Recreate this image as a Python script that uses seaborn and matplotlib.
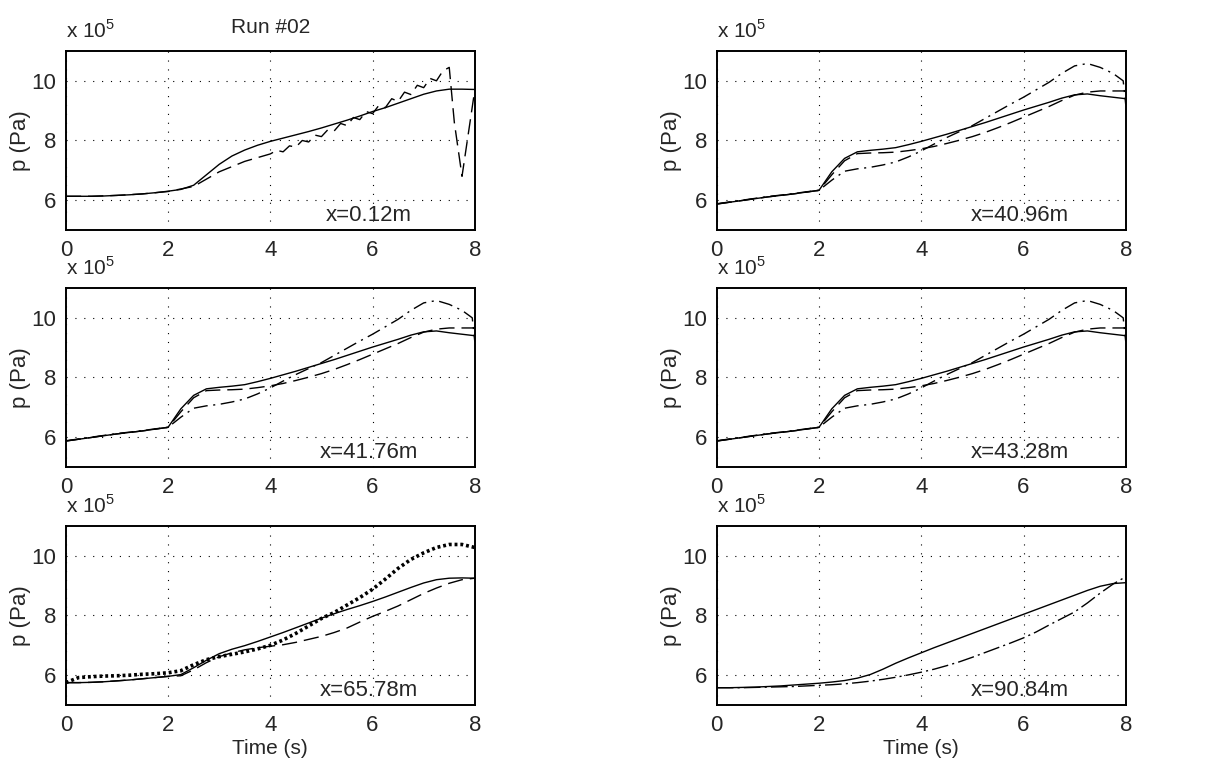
import numpy as np
import seaborn as sns
import matplotlib.pyplot as plt
from matplotlib.ticker import FuncFormatter

# time grid (s)
t = [0, 0.25, 0.5, 0.75, 1, 1.25, 1.5, 1.75, 2, 2.25, 2.5, 2.75, 3, 3.25, 3.5, 3.75,
     4, 4.25, 4.5, 4.75, 5, 5.25, 5.5, 5.75, 6, 6.25, 6.5, 6.75, 7, 7.25, 7.5, 7.75, 8]

# x=0.12m  (values in 1e5 Pa)
p1_solid = [6.13, 6.13, 6.13, 6.14, 6.16, 6.18, 6.21, 6.25, 6.30, 6.36, 6.50, 6.85, 7.20,
            7.48, 7.68, 7.84, 7.97, 8.08, 8.19, 8.30, 8.42, 8.55, 8.68, 8.82, 8.97, 9.10,
            9.25, 9.40, 9.55, 9.66, 9.72, 9.72, 9.71]
t1_dash = [0, 0.5, 1, 1.5, 2, 2.5, 3, 3.5, 4.0, 4.125, 4.25, 4.375, 4.5, 4.625, 4.75, 4.875,
           5.0, 5.125, 5.25, 5.375, 5.5, 5.625, 5.75, 5.875, 6.0, 6.125, 6.25, 6.375, 6.5,
           6.625, 6.75, 6.875, 7.0, 7.125, 7.25, 7.375, 7.5, 7.6, 7.75, 8.0]
p1_dash = [6.13, 6.13, 6.16, 6.21, 6.29, 6.46, 6.95, 7.30, 7.55, 7.67, 7.62, 7.82, 7.78, 8.00,
           7.95, 8.18, 8.13, 8.36, 8.32, 8.57, 8.50, 8.77, 8.70, 8.97, 8.90, 9.18, 9.10, 9.40,
           9.31, 9.62, 9.54, 9.85, 9.77, 10.08, 10.00, 10.33, 10.45, 8.60, 6.80, 9.70]

# x=40.96m / 41.76m / 43.28m
pm_solid = [5.87, 5.93, 5.99, 6.05, 6.11, 6.16, 6.21, 6.27, 6.33, 6.95, 7.40, 7.62, 7.67,
            7.71, 7.76, 7.86, 7.97, 8.09, 8.21, 8.34, 8.47, 8.60, 8.74, 8.88, 9.02, 9.15,
            9.28, 9.42, 9.53, 9.56, 9.50, 9.45, 9.40]
pm_dash = [5.87, 5.93, 5.99, 6.05, 6.11, 6.16, 6.21, 6.27, 6.33, 6.85, 7.32, 7.56, 7.58,
           7.59, 7.61, 7.66, 7.72, 7.80, 7.90, 8.01, 8.13, 8.27, 8.43, 8.60, 8.78, 8.96,
           9.14, 9.34, 9.52, 9.62, 9.66, 9.66, 9.66]
tm_dashdot = [0, 0.25, 0.5, 0.75, 1, 1.25, 1.5, 1.75, 2, 2.25, 2.5, 2.75, 3, 3.25, 3.5, 3.75,
              4, 4.25, 4.5, 4.75, 5, 5.25, 5.5, 5.75, 6, 6.25, 6.5, 6.75, 7, 7.25, 7.5, 7.75,
              7.95, 8.0]
pm_dashdot = [5.88, 5.94, 6.00, 6.06, 6.12, 6.17, 6.22, 6.28, 6.33, 6.67, 6.97, 7.05, 7.10,
              7.18, 7.28, 7.45, 7.65, 7.88, 8.10, 8.30, 8.50, 8.74, 8.98, 9.22, 9.45, 9.70,
              9.95, 10.25, 10.50, 10.58, 10.45, 10.25, 10.00, 9.20]

# x=65.78m
p5_solid = [5.75, 5.75, 5.76, 5.78, 5.81, 5.84, 5.88, 5.92, 5.96, 6.02, 6.25, 6.50, 6.72,
            6.87, 6.99, 7.13, 7.28, 7.43, 7.59, 7.75, 7.91, 8.06, 8.20, 8.33, 8.47, 8.62,
            8.78, 8.94, 9.09, 9.20, 9.25, 9.26, 9.25]
p5_dash = [5.75, 5.75, 5.76, 5.78, 5.81, 5.84, 5.88, 5.92, 5.96, 5.98, 6.18, 6.42, 6.62,
           6.75, 6.85, 6.92, 6.97, 7.02, 7.10, 7.20, 7.30, 7.43, 7.58, 7.78, 7.97, 8.14,
           8.32, 8.53, 8.74, 8.92, 9.08, 9.20, 9.25]
p5_dot = [5.75, 5.92, 5.95, 5.97, 5.98, 6.00, 6.03, 6.05, 6.08, 6.15, 6.35, 6.52, 6.62,
          6.70, 6.78, 6.88, 7.00, 7.18, 7.40, 7.65, 7.90, 8.10, 8.35, 8.60, 8.88, 9.22,
          9.58, 9.88, 10.10, 10.28, 10.38, 10.38, 10.28]

# x=90.84m
p6_solid = [5.58, 5.58, 5.59, 5.60, 5.62, 5.64, 5.67, 5.70, 5.73, 5.77, 5.82, 5.90, 6.02,
            6.20, 6.40, 6.58, 6.75, 6.92, 7.08, 7.24, 7.40, 7.56, 7.72, 7.88, 8.04, 8.20,
            8.36, 8.52, 8.68, 8.84, 8.98, 9.07, 9.10]
p6_dashdot = [5.58, 5.58, 5.58, 5.59, 5.60, 5.61, 5.62, 5.64, 5.66, 5.68, 5.71, 5.75, 5.80,
              5.86, 5.93, 6.01, 6.10, 6.20, 6.32, 6.45, 6.60, 6.76, 6.92, 7.08, 7.25, 7.45,
              7.68, 7.90, 8.12, 8.42, 8.75, 9.05, 9.30]

labels = ["x=0.12m", "x=40.96m", "x=41.76m", "x=43.28m", "x=65.78m", "x=90.84m"]
yticks = [6, 8, 10]
xticks = [0, 2, 4, 6, 8]

sns.set_style("white")
plt.rcParams["font.family"] = ["Liberation Sans", "DejaVu Sans"]
plt.rcParams["mathtext.fontset"] = "custom"
plt.rcParams["mathtext.rm"] = "Liberation Sans"

DASH = (0, (11, 5))
DASHDOT = (0, (10, 4, 1.5, 4))
DOT = (0, (0.8, 0.8))

panels = [
    [(t, p1_solid, "-", 1.0), (t1_dash, p1_dash, DASH, 1.0)],
    [(t, pm_solid, "-", 1.0), (t, pm_dash, DASH, 1.0), (tm_dashdot, pm_dashdot, DASHDOT, 1.0)],
    [(t, pm_solid, "-", 1.0), (t, pm_dash, DASH, 1.0), (tm_dashdot, pm_dashdot, DASHDOT, 1.0)],
    [(t, pm_solid, "-", 1.0), (t, pm_dash, DASH, 1.0), (tm_dashdot, pm_dashdot, DASHDOT, 1.0)],
    [(t, p5_solid, "-", 1.0), (t, p5_dash, DASH, 1.0), (t, p5_dot, DOT, 2.6)],
    [(t, p6_solid, "-", 1.0), (t, p6_dashdot, (0, (12, 3, 1.5, 3)), 1.0)],
]

fig = plt.figure(figsize=(12.19, 7.70), dpi=100)
lefts = [0.054, 0.588]
bottoms = [0.7013, 0.3935, 0.0844]
w, h = 0.3355, 0.2325

for i, lines in enumerate(panels):
    r, c = divmod(i, 2)
    ax = fig.add_axes([lefts[c], bottoms[r], w, h])
    for tx, vals, ls, lw in lines:
        sns.lineplot(x=tx, y=np.array(vals) * 1e5, ax=ax, color="k", lw=lw,
                     linestyle=ls, sort=False, estimator=None)
    ax.set_xlim(0, 8)
    ax.set_ylim(5e5, 11e5)
    ax.set_xticks(xticks)
    ax.set_yticks([v * 1e5 for v in yticks])
    ax.yaxis.set_major_formatter(FuncFormatter(lambda v, p: "%d" % round(v / 1e5)))
    ax.grid(True, color="k", linestyle=(0, (1, 7)), lw=0.8)
    ax.tick_params(direction="in", length=4, width=1, labelsize=16, pad=7)
    for s in ax.spines.values():
        s.set_linewidth(1.4)
        s.set_color("k")
    ax.set_ylabel("p (Pa)", fontsize=16, labelpad=0)
    ax.set_xlabel("Time (s)" if r == 2 else "", fontsize=15, labelpad=2)
    ax.text(0.74, 0.02, labels[i], transform=ax.transAxes, ha="center", va="bottom",
            fontsize=16)
    ax.text(0.0, 1.05, r"x 10$^5$", transform=ax.transAxes, ha="left", va="bottom",
            fontsize=15)
    if i == 0:
        ax.set_title("Run #02", fontsize=15, pad=13)

fig.savefig("out.png", dpi=100)
